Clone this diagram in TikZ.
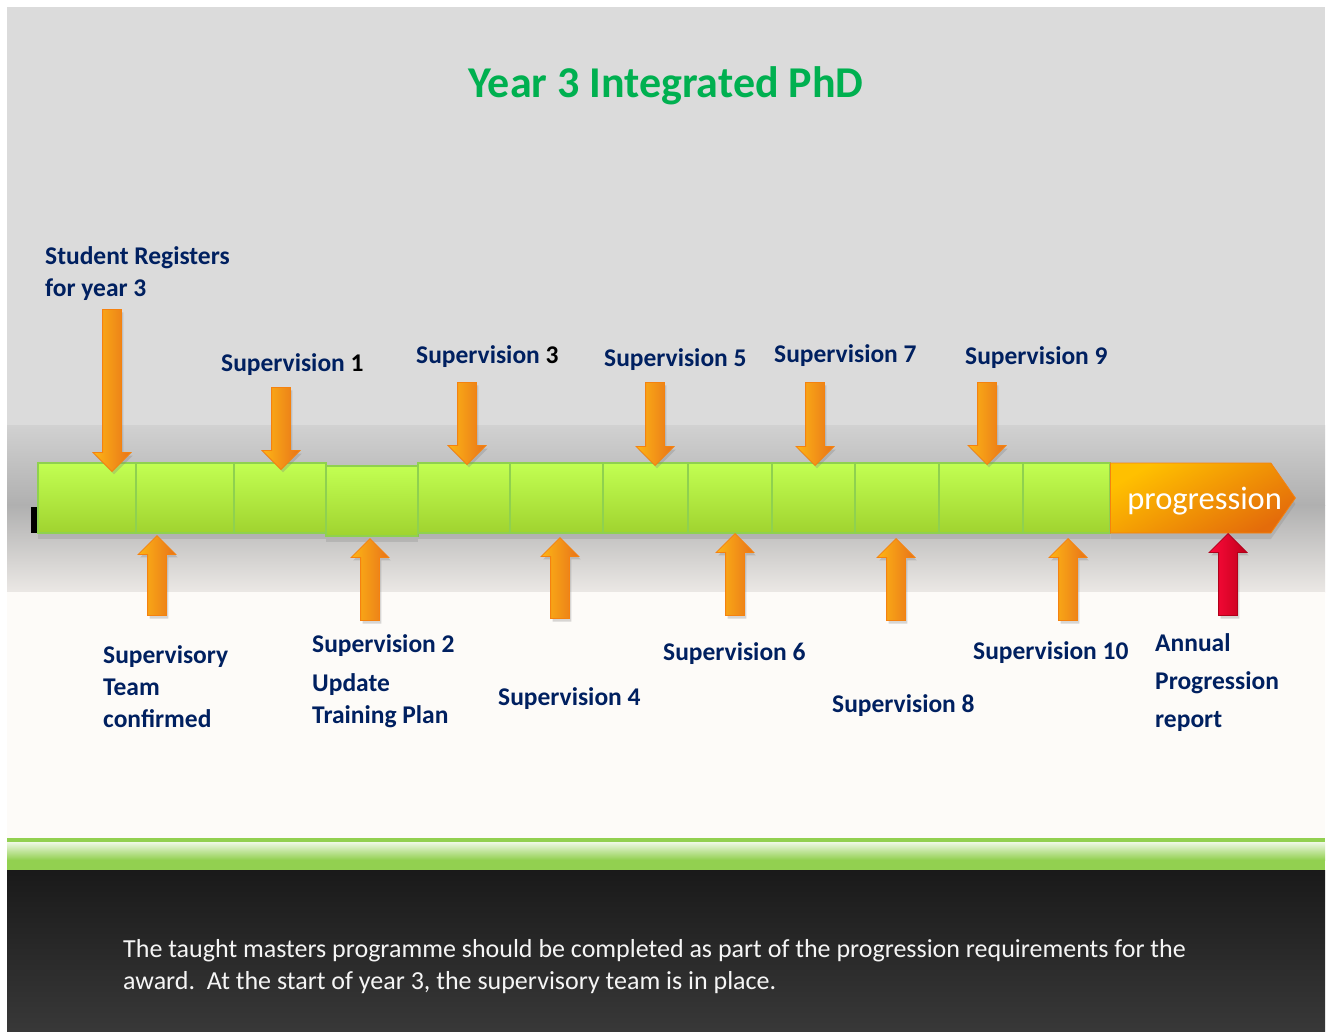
\documentclass[tikz,border=0pt]{standalone}
\usepackage{fontspec}
\setmainfont{Carlito}
\usetikzlibrary{positioning,shapes.arrows,shapes.symbols,shadows}

\definecolor{navy}{HTML}{002060}
\definecolor{titlegreen}{HTML}{00B050}
\definecolor{celltop}{HTML}{C2FF52}
\definecolor{cellbot}{HTML}{A0D32F}
\definecolor{cellline}{HTML}{8FD14F}
\definecolor{arrowlight}{HTML}{FDB515}
\definecolor{arrowdark}{HTML}{E8731A}
\definecolor{arrowline}{HTML}{F5820F}
\definecolor{redlight}{HTML}{FF0A3C}
\definecolor{reddark}{HTML}{C0001A}
\definecolor{redline}{HTML}{B0001A}
\definecolor{progA}{HTML}{FFC000}
\definecolor{progB}{HTML}{E46C0A}
\definecolor{bandgreen}{HTML}{92D050}
\definecolor{paper}{HTML}{FDFBF8}
\definecolor{lowgray}{HTML}{EBE8E5}

\begin{document}
\begin{tikzpicture}[x=1pt,y=-1pt,node distance=0pt]

\tikzstyle{cell}=[draw=cellline,line width=1.5pt,top color=celltop,bottom color=cellbot,
  minimum height=70pt,inner sep=0pt,outer sep=0pt,
  drop shadow={opacity=.25,shadow xshift=0pt,shadow yshift=-6pt}]
\tikzstyle{blockarrow}=[single arrow,anchor=tip,minimum width=37pt,inner xsep=0pt,inner ysep=9pt,
  single arrow head extend=9.5pt,line width=0.8pt,draw=arrowline,
  left color=arrowlight,right color=arrowdark,
  drop shadow={opacity=.3,shadow xshift=2pt,shadow yshift=-3pt}]
\tikzstyle{downarrow}=[blockarrow,rotate=-90]
\tikzstyle{uparrow}=[blockarrow,rotate=90]
\tikzstyle{milestone}=[text=navy,font=\fontsize{25.5}{32}\selectfont\bfseries,
  align=left,anchor=base west,inner sep=0pt]

% page and background bands
\useasboundingbox (0,0) rectangle (1330,1031);
\fill[white] (0,0) rectangle (1330,1031);
\fill[gray!28] (7,7) rectangle (1325,425);
\shade[top color=gray!36,bottom color=gray!62] (7,425) rectangle (1325,505);
\shade[top color=gray!62,bottom color=lowgray] (7,505) rectangle (1325,592);
\fill[paper] (7,592) rectangle (1325,838);
\fill[bandgreen] (7,838) rectangle (1325,842);
\shade[top color=bandgreen!15,bottom color=bandgreen] (7,842) rectangle (1325,860);
\fill[bandgreen] (7,860) rectangle (1325,870);
\shade[top color=black!90,bottom color=black!78] (7,870) rectangle (1325,1031);
\fill[black] (31,507) rectangle (38,533);

\node[font=\fontsize{44}{50}\selectfont\bfseries,text=titlegreen,anchor=base] (title) at (666,97) {Year 3 Integrated PhD};

% the time line
\node[cell,minimum width=98pt,anchor=west] (c1) at (38,498) {};
\node[cell,minimum width=98pt,right=of c1] (c2) {};
\node[cell,minimum width=92pt,right=of c2] (c3) {};
\node[cell,minimum width=92pt,right=of c3,yshift=-3pt] (c4) {};
\node[cell,minimum width=92pt,right=92pt of c3] (c5) {};
\node[cell,minimum width=93pt,right=of c5] (c6) {};
\node[cell,minimum width=85pt,right=of c6] (c7) {};
\node[cell,minimum width=84pt,right=of c7] (c8) {};
\node[cell,minimum width=83pt,right=of c8] (c9) {};
\node[cell,minimum width=84pt,right=of c9] (c10) {};
\node[cell,minimum width=84pt,right=of c10] (c11) {};
\node[cell,minimum width=87pt,right=of c11] (c12) {};
\node[signal,signal to=east,signal pointer angle=110,right=of c12,minimum width=185pt,
  minimum height=70pt,inner sep=0pt,draw=arrowline,line width=0.8pt,
  top color=progA,bottom color=progB,shading angle=30,text=white,text depth=0pt,
  drop shadow={opacity=.25,shadow xshift=0pt,shadow yshift=-6pt},
  font=\fontsize{32.5}{38}\selectfont] (prog) {\makebox[0pt]{\hspace*{28pt}progression}};

% arrows from above
\node[downarrow,minimum height=162pt] (reg) at (112,472) {};
\node[downarrow,minimum height=82pt] (d1) at (281,470) {};
\node[downarrow,minimum height=82pt] (d3) at (467,465) {};
\node[downarrow,minimum height=83pt] (d5) at (655,466) {};
\node[downarrow,minimum height=83pt] (d7) at (815,466) {};
\node[downarrow,minimum height=82pt] (d9) at (987,465) {};

% arrows from below
\node[uparrow,minimum height=80pt] (team) at (157,535) {};
\node[uparrow,minimum height=82pt] (u2) at (370,538) {};
\node[uparrow,minimum height=81pt] (u4) at (560,537) {};
\node[uparrow,minimum height=82pt] (u6) at (735,533) {};
\node[uparrow,minimum height=82pt] (u8) at (896,538) {};
\node[uparrow,minimum height=82pt] (u10) at (1068,538) {};
\node[uparrow,minimum height=82pt,draw=redline,left color=redlight,right color=reddark] (annual) at (1228,533) {};

% texts
\node[milestone] (regtxt) at (45,296) {Student Registers\\for year 3};
\node[milestone] (s1) at (221,371) {Supervision {\color{black}1}};
\node[milestone] (s3) at (416,363) {Supervision {\color{black}3}};
\node[milestone] (s5) at (604,366) {Supervision 5};
\node[milestone] (s7) at (774,362) {Supervision 7};
\node[milestone] (s9) at (965,364) {Supervision 9};
\node[milestone] (teamtxt) at (103,727) {Supervisory\\Team\\confirmed};
\node[milestone] (s2) at (312,723) {Supervision 2\\[7pt]Update\\Training Plan};
\node[milestone] (s4) at (498,705) {Supervision 4};
\node[milestone] (s6) at (663,660) {Supervision 6};
\node[milestone] (s8) at (832,712) {Supervision 8};
\node[milestone] (s10) at (973,659) {Supervision 10};
\node[milestone,font=\fontsize{25.5}{38}\selectfont\bfseries] (annualtxt) at (1155,727) {Annual\\Progression\\report};

\node[text=gray!8,font=\fontsize{26}{32}\selectfont,align=left,anchor=base west,inner sep=0pt] (note) at (123,989)
  {The taught masters programme should be completed as part of the progression requirements for the\\award.\ \ At the start of year 3, the supervisory team is in place.};

\end{tikzpicture}
\end{document}
